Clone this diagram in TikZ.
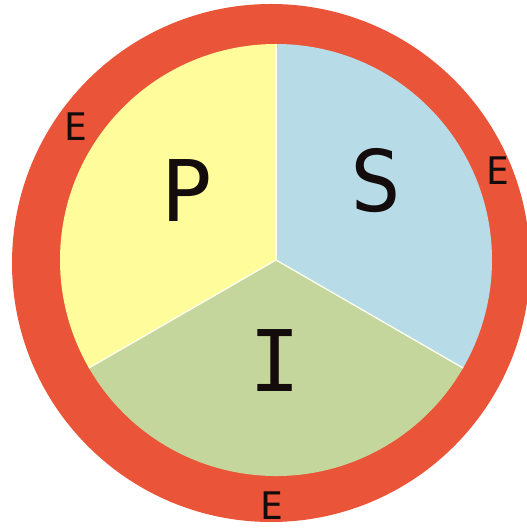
\documentclass[tikz,border=0pt]{standalone}
\usepackage{fontspec}
\usetikzlibrary{calc}
\setmainfont{DejaVu Sans Mono}
\definecolor{ringred}{RGB}{234,84,56}
\definecolor{pyellow}{RGB}{255,253,155}
\definecolor{sblue}{RGB}{183,220,232}
\definecolor{igreen}{RGB}{196,214,155}
\definecolor{ink}{RGB}{20,12,12}
\tikzset{
  bigletter/.style={inner sep=0pt, text=ink, font=\fontsize{85}{90}\selectfont},
  ringletter/.style={inner sep=0pt, text=ink, font=\fontsize{38}{42}\selectfont},
  sep/.style={draw=white!85!pyellow, line width=1.3pt}
}
\begin{document}
\begin{tikzpicture}[x=1pt,y=1pt]
\useasboundingbox (0,0) rectangle (527,528);
\fill[ringred] (271,265) circle (259);
\coordinate (c) at (276,268);
\fill[pyellow] (c) -- ++(90:216) arc[start angle=90,end angle=210,radius=216] -- cycle;
\fill[sblue] (c) -- ++(90:216) arc[start angle=90,end angle=-30,radius=216] -- cycle;
\fill[igreen] (c) -- ++(210:216) arc[start angle=210,end angle=330,radius=216] -- cycle;
\coordinate (t) at ($(c)+(90:216)$);
\coordinate (l) at ($(c)+(210:216)$);
\coordinate (r) at ($(c)+(330:216)$);
\draw[sep] (c) -- (t);
\draw[sep] (c) -- (l);
\draw[sep] (c) -- (r);
\node[bigletter] (p) at (187,337) {P};
\node[bigletter] (s) at (376,347) {S};
\node[bigletter] (i) at (275,167) {I};
\node[ringletter] (e1) at (76,401) {E};
\node[ringletter] (e2) at (498,357) {E};
\node[ringletter] (e3) at (272,22) {E};
\end{tikzpicture}
\end{document}
